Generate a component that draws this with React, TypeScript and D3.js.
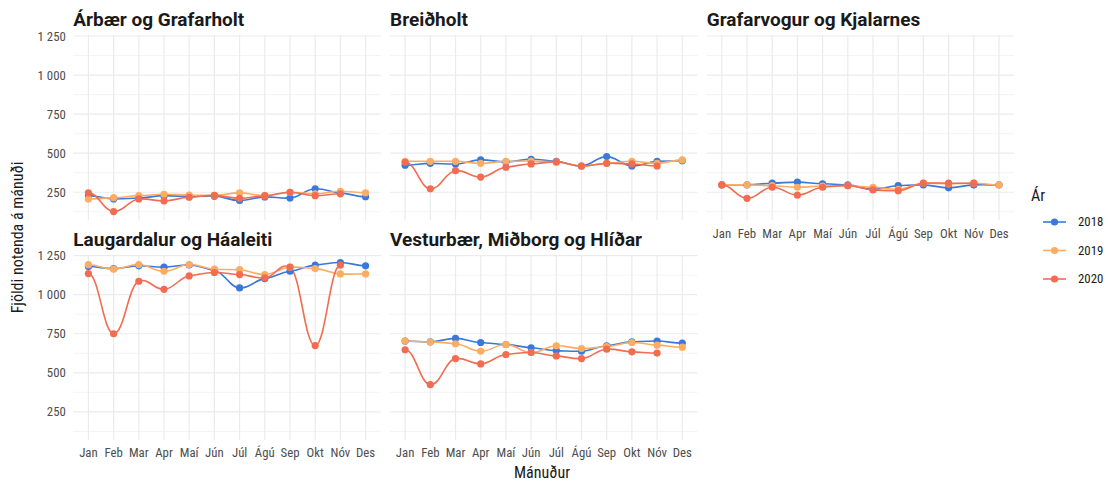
import React from "react";
import * as d3 from "d3";

const months = ["Jan", "Feb", "Mar", "Apr", "Maí", "Jún", "Júl", "Ágú", "Sep", "Okt", "Nóv", "Des"];
const years = ["2018", "2019", "2020"];
const yearColors = ["#3a78dc", "#fdac63", "#f26c52"];
const yTicks = [250, 500, 750, 1000, 1250];
const yMinor = [125, 375, 625, 875, 1125];

// values per district, per year (2020 stops at Nóv)
const arbaer = [
  [228, 207, 213, 228, 222, 225, 197, 220, 213, 272, 246, 221],
  [207, 215, 228, 237, 232, 230, 246, 228, 250, 240, 256, 246],
  [246, 126, 207, 194, 218, 230, 211, 228, 250, 228, 240],
];
const breidholt = [
  [423, 435, 431, 457, 444, 461, 448, 418, 478, 418, 448, 452],
  [448, 448, 448, 435, 448, 450, 444, 418, 435, 448, 435, 457],
  [442, 272, 388, 347, 410, 431, 444, 418, 435, 431, 418],
];
const grafarvogur = [
  [297, 297, 308, 315, 304, 297, 269, 292, 297, 278, 297, 297],
  [297, 297, 292, 282, 290, 292, 282, 269, 308, 304, 308, 297],
  [297, 211, 282, 232, 282, 292, 265, 260, 308, 308, 308],
];
const laugardalur = [
  [1180, 1167, 1185, 1176, 1190, 1155, 1043, 1103, 1150, 1189, 1206, 1185],
  [1192, 1163, 1193, 1150, 1193, 1163, 1160, 1129, 1176, 1167, 1133, 1133],
  [1135, 750, 1086, 1034, 1120, 1142, 1129, 1107, 1176, 674, 1189],
];
const vesturbaer = [
  [703, 698, 720, 694, 681, 660, 642, 638, 673, 698, 703, 690],
  [703, 698, 686, 638, 681, 630, 673, 655, 668, 694, 677, 664],
  [647, 424, 591, 557, 617, 630, 608, 591, 651, 634, 626],
];

const panels = [
  { title: "Árbær og Grafarholt", values: arbaer, col: 0, row: 0, xAxis: false },
  { title: "Breiðholt", values: breidholt, col: 1, row: 0, xAxis: false },
  { title: "Grafarvogur og Kjalarnes", values: grafarvogur, col: 2, row: 0, xAxis: true },
  { title: "Laugardalur og Háaleiti", values: laugardalur, col: 0, row: 1, xAxis: true },
  { title: "Vesturbær, Miðborg og Hlíðar", values: vesturbaer, col: 1, row: 1, xAxis: true },
];

const colX = [73.3, 390, 706.7];
const panelW = 307.4;
const rowY = [35.4, 255];
const panelH = 184.8;

const tickFont = "'Roboto Condensed', 'Liberation Sans Narrow', 'DejaVu Sans Condensed', Roboto, sans-serif";
const grid = "#ebebeb";

const fmt = (v: number) => (v >= 1000 ? `${Math.floor(v / 1000)} ${String(v % 1000).padStart(3, "0")}` : String(v));

// smooth spline through the points, softened tangents (close to an x-spline look)
function splinePath(pts: [number, number][], k = 0.4) {
  const p = d3.path();
  const n = pts.length;
  const slope = (i: number) => {
    if (i === 0 || i === n - 1) return 0;
    return (k * (pts[i + 1][1] - pts[i - 1][1])) / (pts[i + 1][0] - pts[i - 1][0]);
  };
  p.moveTo(pts[0][0], pts[0][1]);
  for (let i = 0; i < n - 1; i++) {
    const [x0, y0] = pts[i];
    const [x1, y1] = pts[i + 1];
    const h = (x1 - x0) * 0.42;
    p.bezierCurveTo(x0 + h, y0 + slope(i) * h, x1 - h, y1 - slope(i + 1) * h, x1, y1);
  }
  return p.toString();
}

function Panel({ p }: { p: (typeof panels)[number] }) {
  const x0 = colX[p.col];
  const y0 = rowY[p.row];
  const x = d3.scalePoint().domain(months).range([0, panelW]).padding(0.6);
  const y = d3.scaleLinear().domain([71, 1254]).range([panelH, 0]);

  return (
    <g transform={`translate(${x0},${y0})`}>
      {yMinor.map((t) => (
        <line key={"m" + t} x1={0} x2={panelW} y1={y(t)} y2={y(t)} stroke={grid} strokeWidth={0.6} />
      ))}
      {yTicks.map((t) => (
        <line key={"M" + t} x1={0} x2={panelW} y1={y(t)} y2={y(t)} stroke={grid} strokeWidth={1.2} />
      ))}
      {months.map((m) => (
        <line key={m} x1={x(m)} x2={x(m)} y1={0} y2={panelH} stroke={grid} strokeWidth={1.2} />
      ))}
      {p.col === 0 &&
        yTicks.map((t) => (
          <text key={"t" + t} x={-7.5} y={y(t)} dy="0.35em" textAnchor="end" fontSize={12.8} fill="#4d4d4d" fontFamily={tickFont}>
            {fmt(t)}
          </text>
        ))}
      {p.xAxis &&
        months.map((m) => (
          <text key={"x" + m} x={x(m)} y={panelH + 17.5} textAnchor="middle" fontSize={12.8} fill="#4d4d4d" fontFamily={tickFont}>
            {m}
          </text>
        ))}
      <text x={0} y={-9.5} fontSize={19} fontWeight="bold" fill="#1a1a1a" fontFamily="Roboto, sans-serif">
        {p.title}
      </text>
      {p.values.map((vals, i) => (
        <path
          key={"l" + i}
          d={splinePath(vals.map((v, j) => [x(months[j])!, y(v)] as [number, number]))}
          fill="none"
          stroke={yearColors[i]}
          strokeWidth={1.6}
        />
      ))}
      {p.values.map((vals, i) =>
        vals.map((v, j) => <circle key={`c${i}-${j}`} cx={x(months[j])} cy={y(v)} r={3.6} fill={yearColors[i]} />)
      )}
    </g>
  );
}

export default function App() {
  return (
    <div style={{ position: "absolute", left: 0, top: 0 }}>
      <svg width={1108} height={482} style={{ display: "block", background: "#fff" }}>
        {panels.map((p) => (
          <Panel key={p.title} p={p} />
        ))}
        <text x={542} y={478} textAnchor="middle" fontSize={16} fill="#1a1a1a" fontFamily={tickFont}>
          Mánuður
        </text>
        <text
          transform="translate(23,237.5) rotate(-90)"
          textAnchor="middle"
          fontSize={16}
          fill="#1a1a1a"
          fontFamily={tickFont}
        >
          Fjöldi notenda á mánuði
        </text>
        <text x={1031} y={201} fontSize={16} fill="#1a1a1a" fontFamily={tickFont}>
          Ár
        </text>
        {years.map((yr, i) => (
          <g key={yr} transform={`translate(0,${222 + i * 28.5})`}>
            <line x1={1043} x2={1066} y1={0} y2={0} stroke={yearColors[i]} strokeWidth={1.6} />
            <circle cx={1054.5} cy={0} r={3.6} fill={yearColors[i]} />
            <text x={1078} y={0} dy="0.35em" fontSize={12.8} fill="#1a1a1a" fontFamily={tickFont}>
              {yr}
            </text>
          </g>
        ))}
      </svg>
    </div>
  );
}
